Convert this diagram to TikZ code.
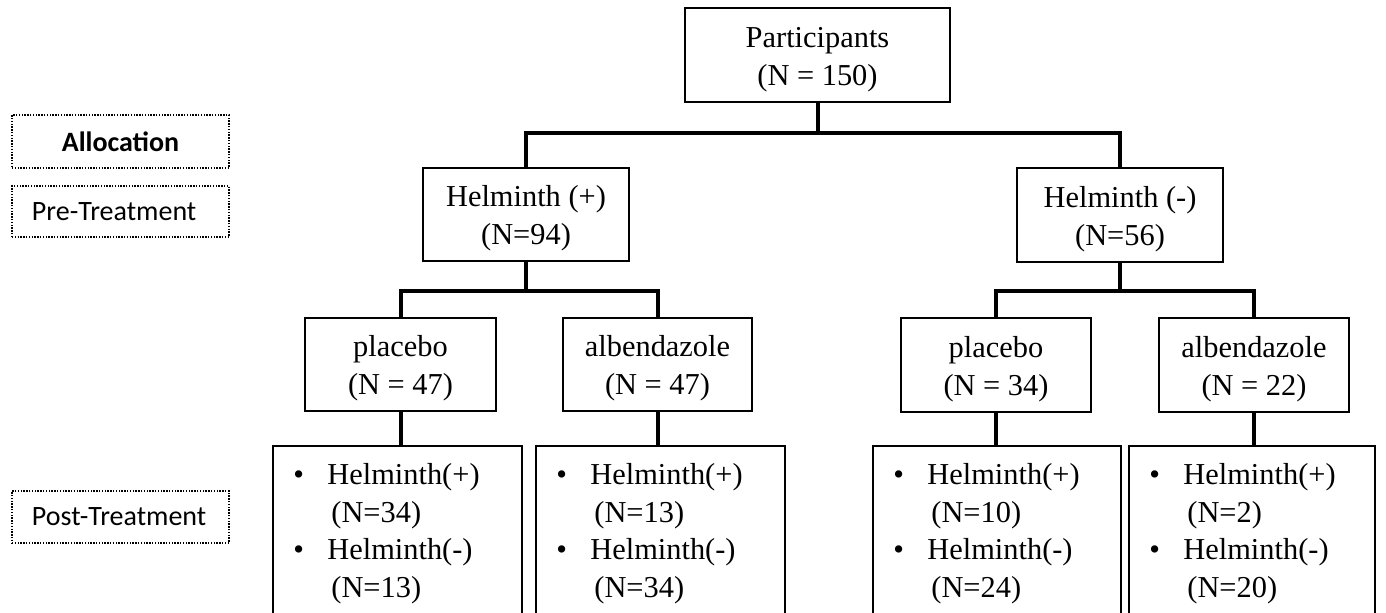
\documentclass[tikz,border=0pt]{standalone}
\usepackage{fontspec}
\setmainfont{Liberation Serif}
\newfontfamily\calfont{Carlito}
\newcommand{\postlist}[2]{\begin{tabular}[t]{@{}p{17pt}@{}l@{}}
\textbullet & Helminth(+)\\
 & \hspace{2pt}(N=#1)\\
\textbullet & Helminth(-)\\
 & \hspace{2pt}(N=#2)
\end{tabular}}
\newcommand{\tb}[2]{\rule{0pt}{14.5pt}#1\\#2}
\begin{document}
\begin{tikzpicture}[x=0.5pt,y=-0.5pt,
  box/.style={draw, line width=1pt, inner sep=0pt, align=center,
    font=\fontsize{15.2}{18.9}\selectfont},
  btxt/.style={inner sep=0pt, anchor=base west,
    font=\fontsize{15.2}{18.7}\selectfont},
  lbl/.style={draw, line width=0.9pt, dash pattern=on 0.7pt off 0.7pt,
    inner ysep=0pt, inner xsep=10pt, text width=88.5pt,
    font=\calfont\fontsize{14}{16}\selectfont},
  conn/.style={line width=2pt}]
\useasboundingbox (0,0) rectangle (1386,613);
\clip (0,0) rectangle (1386,613);

% left phase labels
\node[lbl, align=center, minimum height=26.5pt] (alloc) at (120.5,141.5) {\bfseries Allocation};
\node[lbl, align=left, minimum height=25.5pt] (pre) at (120.5,211.5) {Pre-Treatment};
\node[lbl, align=left, minimum height=26pt] (post) at (120.5,517) {Post-Treatment};

% tree boxes
\node[box, minimum width=132.5pt, minimum height=47pt] (part) at (817.5,55) {\tb{Participants}{(N = 150)}};
\node[box, minimum width=103pt, minimum height=46.5pt] (hp) at (526,214.5) {\tb{Helminth (+)}{(N=94)}};
\node[box, minimum width=103pt, minimum height=47pt] (hm) at (1120,215) {\tb{Helminth (-)}{(N=56)}};
\node[box, minimum width=95.5pt, minimum height=46.5pt] (pl1) at (400.5,364.5) {\tb{placebo}{(N = 47)}};
\node[box, minimum width=94.5pt, minimum height=46.5pt] (al1) at (657.5,364.5) {\tb{albendazole}{(N = 47)}};
\node[box, minimum width=95pt, minimum height=47pt] (pl2) at (996,365) {\tb{placebo}{(N = 34)}};
\node[box, minimum width=95pt, minimum height=47pt] (al2) at (1254,365) {\tb{albendazole}{(N = 22)}};

\node[box, minimum width=124.5pt, minimum height=85pt] (b1) at (397.5,531) {};
\node[box, minimum width=124.5pt, minimum height=85pt] (b2) at (660.5,531) {};
\node[box, minimum width=124pt, minimum height=85pt] (b3) at (997,531) {};
\node[box, minimum width=123pt, minimum height=85pt] (b4) at (1252,531) {};

\node[btxt] (t1) at ([shift={(21,40)}]b1.north west) {\postlist{34}{13}};
\node[btxt] (t2) at ([shift={(21,40)}]b2.north west) {\postlist{13}{34}};
\node[btxt] (t3) at ([shift={(21,40)}]b3.north west) {\postlist{10}{24}};
\node[btxt] (t4) at ([shift={(21,40)}]b4.north west) {\postlist{2}{20}};

% connectors
\coordinate (j0) at (817.5,133);
\coordinate (j1) at (526,291);
\coordinate (j2) at (1120,291);
\draw[conn] (part.south) -- (j0);
\draw[conn] (hp.north) |- (j0) -| (hm.north);
\draw[conn] (hp.south) -- (j1);
\draw[conn] (pl1.north) |- (j1) -| (al1.north);
\draw[conn] (hm.south) -- (j2);
\draw[conn] (pl2.north) |- (j2) -| (al2.north);
\draw[conn] (pl1.south) -- (pl1.south |- b1.north);
\draw[conn] (al1.south) -- (al1.south |- b2.north);
\draw[conn] (pl2.south) -- (pl2.south |- b3.north);
\draw[conn] (al2.south) -- (al2.south |- b4.north);
\end{tikzpicture}
\end{document}
